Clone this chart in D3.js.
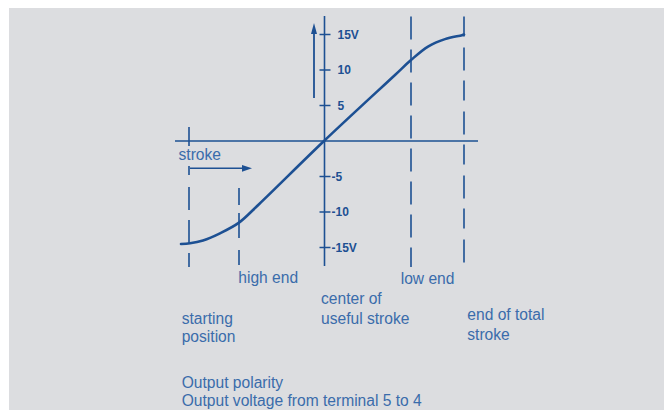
<!DOCTYPE html>
<html>
<head>
<meta charset="utf-8">
<script src="https://cdn.jsdelivr.net/npm/d3@7"></script>
<style>
  html, body { margin: 0; padding: 0; background: #ffffff; }
  svg { display: block; }
</style>
</head>
<body>
<svg id="chart" width="664" height="410"></svg>
<script>
// ---- data ----
// stroke position (arbitrary units, 0 = center of useful stroke) and output voltage (V)
const strokePos = [-143, -134, -121, -104, -85, -65, 0, 71, 87, 104, 121, 138, 140];
const voltage   = [-14.5, -14.4, -14.0, -13.0, -11.5, -8.9, 0, 9.3, 11.4, 13.3, 14.35, 14.9, 15];

const tickValues = [15, 10, 5, -5, -10, -15];
const tickLabels = ["15V", "10", "5", "-5", "-10", "-15V"];

const stopNames = ["starting position", "high end", "center of useful stroke", "low end", "end of total stroke"];
const stopPos   = [-135, -85, 0, 87, 140];

const strokeLabel = "stroke";
const captionLines = ["Output polarity", "Output voltage from terminal 5 to 4"];

// ---- layout ----
const svg = d3.select("#chart");
const lineColor = "#1d5093";
const textColor = "#3a6cab";
const font = "'Liberation Sans', Arial, Helvetica, sans-serif";

svg.append("rect").attr("x", 9).attr("y", 8).attr("width", 655).attr("height", 402).attr("fill", "#dcdde0");

const x = d3.scaleLinear().domain([-150, 150]).range([174, 474]);
const y = d3.scaleLinear().domain([-15, 15]).range([247.5, 34.5]);

const g = svg.append("g");

// horizontal axis
g.append("line").attr("x1", x(-149)).attr("x2", x(154)).attr("y1", y(0)).attr("y2", y(0))
  .attr("stroke", lineColor).attr("stroke-width", 1.6);

// vertical axis
g.append("line").attr("x1", x(0) + 0.5).attr("x2", x(0) + 0.5).attr("y1", 16).attr("y2", 266)
  .attr("stroke", lineColor).attr("stroke-width", 1.6);

// ticks on vertical axis
g.selectAll(".ytick").data(tickValues).join("line")
  .attr("x1", x(0) - 4.5).attr("x2", x(0) + 6.5)
  .attr("y1", d => y(d)).attr("y2", d => y(d))
  .attr("stroke", lineColor).attr("stroke-width", 1.5);

g.selectAll(".ylab").data(tickValues).join("text")
  .attr("x", d => d > 0 ? x(0) + 13.5 : x(0) + 7.5)
  .attr("y", d => y(d))
  .attr("dy", "0.36em")
  .attr("font-family", font).attr("font-size", 12).attr("font-weight", "bold")
  .attr("fill", lineColor)
  .text((d, i) => tickLabels[i]);

// dashed guide lines
const dashSpec = {
  "starting position": {y1: 166, y2: 267, dash: "9,12,23,10,23,10,14,200"},
  "high end": {y1: 188, y2: 266, dash: "17,8,25,12,15,200"},
  "low end": {y1: 16.5, y2: 267, dash: "23,10"},
  "end of total stroke": {y1: 16.5, y2: 267, dash: "20,11,23,10"}
};
stopNames.forEach((name, i) => {
  const s = dashSpec[name];
  if (!s) return;
  g.append("line")
    .attr("x1", x(stopPos[i])).attr("x2", x(stopPos[i]))
    .attr("y1", s.y1).attr("y2", s.y2)
    .attr("stroke", lineColor).attr("stroke-width", 1.6)
    .attr("stroke-dasharray", s.dash);
});

// tick at starting position on horizontal axis
g.append("line").attr("x1", x(stopPos[0])).attr("x2", x(stopPos[0]))
  .attr("y1", 127).attr("y2", 146)
  .attr("stroke", lineColor).attr("stroke-width", 1.6);

// output curve
const curveData = strokePos.map((p, i) => [p, voltage[i]]);
g.append("path").datum(curveData)
  .attr("d", d3.line().x(d => x(d[0])).y(d => y(d[1])).curve(d3.curveCatmullRom.alpha(0.5)))
  .attr("fill", "none").attr("stroke", lineColor).attr("stroke-width", 2.6)
  .attr("stroke-linecap", "round");

// up arrow next to vertical axis
const ax = x(0) - 10;
g.append("line").attr("x1", ax).attr("x2", ax).attr("y1", 98).attr("y2", 30)
  .attr("stroke", lineColor).attr("stroke-width", 1.8);
g.append("path").attr("d", `M${ax},23 L${ax - 3},34 L${ax + 3},34 Z`).attr("fill", lineColor);

// stroke arrow
const sy = 168.3;
g.append("line").attr("x1", x(stopPos[0]) + 1).attr("x2", x(-77)).attr("y1", sy).attr("y2", sy)
  .attr("stroke", lineColor).attr("stroke-width", 1.6);
g.append("path").attr("d", `M${x(-72)},${sy} L${x(-82)},${sy - 3.4} L${x(-82)},${sy + 3.4} Z`).attr("fill", lineColor);

// texts
const txt = (str, tx, ty) => svg.append("text").attr("x", tx).attr("y", ty)
  .attr("font-family", font).attr("font-size", 15.6).attr("fill", textColor).text(str);

txt(strokeLabel, 178.5, 160);
txt("high end", 238.3, 283.3);
txt("low end", 400.7, 284);
txt("center of", 321, 304.3);
txt("useful stroke", 321, 324);
txt("starting", 181.7, 324);
txt("position", 181.7, 341.7);
txt("end of total", 467.3, 320);
txt("stroke", 467.3, 340);
txt(captionLines[0], 181.7, 388);
txt(captionLines[1], 181.7, 405.7);
</script>
</body>
</html>
